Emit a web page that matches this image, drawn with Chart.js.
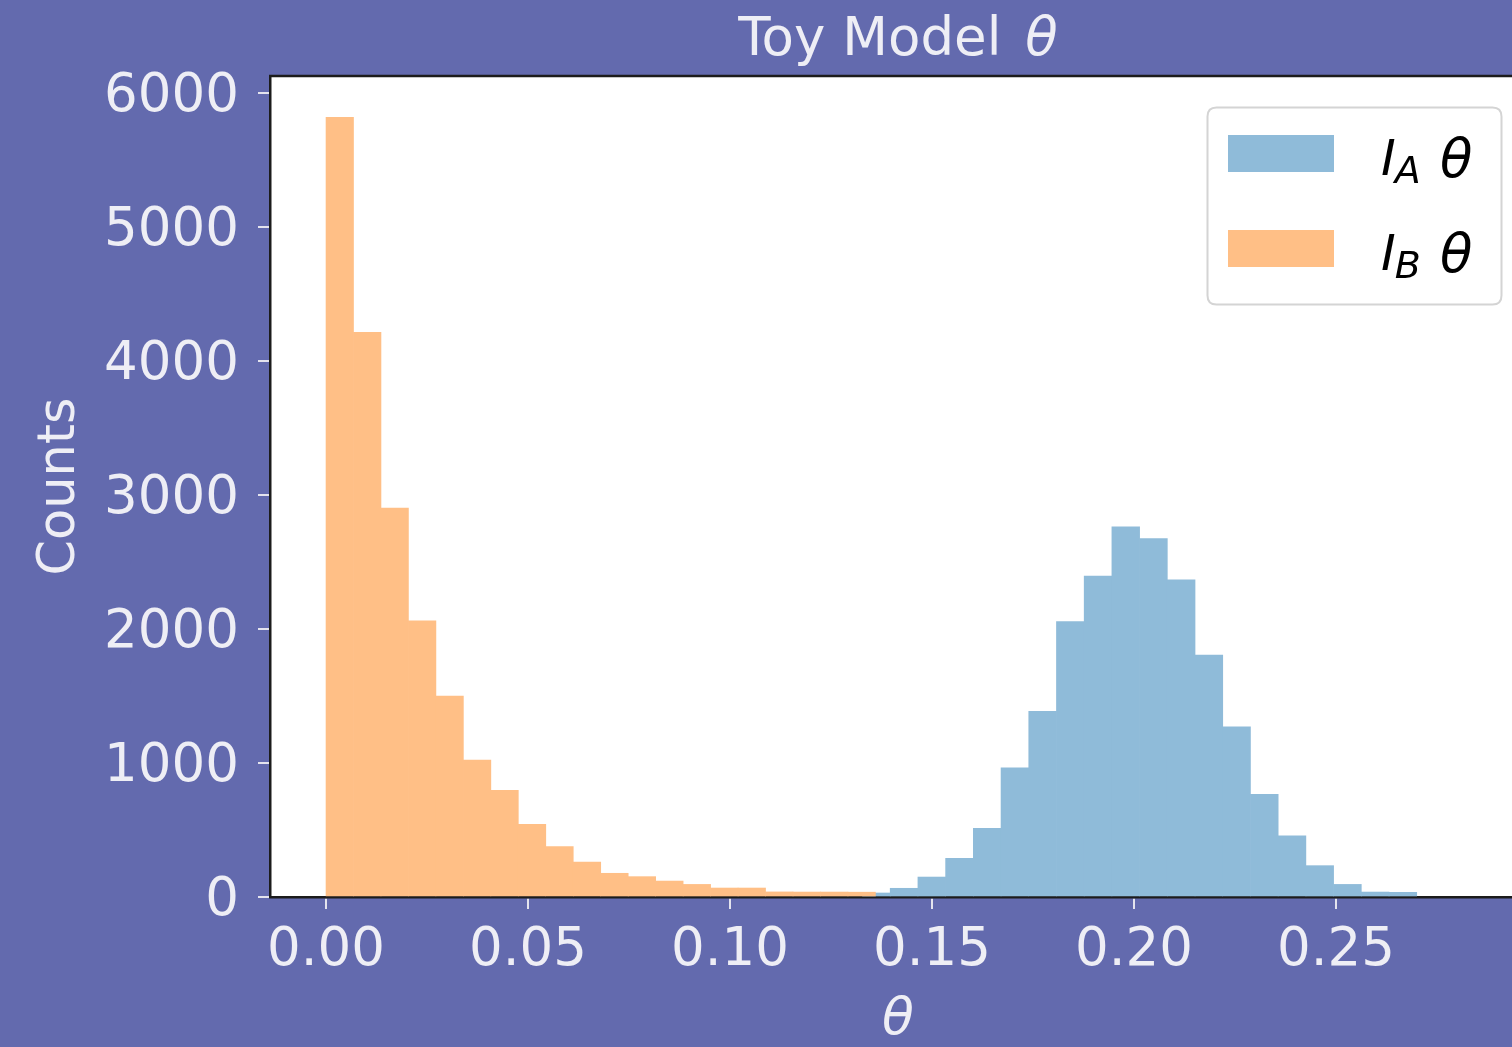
<!DOCTYPE html>
<html><head><meta charset="utf-8">
<script src="https://cdn.jsdelivr.net/npm/chart.js@4.4.1/dist/chart.umd.min.js"></script>
<style>
html,body{margin:0;padding:0;overflow:hidden;background:#636aae;width:1512px;height:1047px}
canvas{display:block}
</style></head>
<body>
<canvas id="c" width="1530" height="1047"></canvas>
<script>
// ---- data ----
const titleMain = 'Toy Model';
const titleSymbol = 'θ';
const xAxisLabel = 'θ';
const yAxisLabel = 'Counts';
const legendSubscripts = ['A', 'B'];

// I_A theta histogram (blue): bin centres and counts
const blueCenters = [0.13623, 0.14309, 0.14995, 0.15681, 0.16367, 0.17053, 0.17739, 0.18425, 0.19111, 0.19797,
                     0.20483, 0.21169, 0.21855, 0.22541, 0.23227, 0.23913, 0.24599, 0.25285, 0.25971, 0.26657];
const blueCounts  = [30, 65, 149, 289, 512, 965, 1386, 2057, 2396, 2764,
                     2677, 2368, 1806, 1271, 766, 457, 234, 94, 37, 35];

// I_B theta histogram (orange): bin centres and counts
const orangeCenters = [0.0034, 0.0102, 0.0170, 0.0238, 0.0306, 0.0374, 0.0442, 0.0510, 0.0578, 0.0646,
                       0.0714, 0.0782, 0.0850, 0.0918, 0.0986, 0.1054, 0.1122, 0.1190, 0.1258, 0.1326];
const orangeCounts  = [5821, 4216, 2903, 2062, 1500, 1022, 796, 542, 376, 261,
                       177, 152, 119, 94, 67, 67, 38, 37, 37, 36];

const xTickValues = [0, 0.05, 0.10, 0.15, 0.20, 0.25];
const yTickValues = [0, 1000, 2000, 3000, 4000, 5000, 6000];
const xRange = [-0.01387, 0.29705];
const yRange = [0, 6130];

// ---- styles ----
const BG = '#636aae';
const TXT = '#eeeef5';
const SPINE = '#1c1c1c';
const BLUE = '#8fbbd9';
const ORANGE = '#ffbf86';
const FONT = '"DejaVu Sans", sans-serif';

const toPts = (xs, ys) => xs.map((x, i) => ({x: x, y: ys[i]}));

const bgPlugin = {
  id: 'bg',
  beforeDraw(chart) {
    const {ctx, chartArea: ca} = chart;
    ctx.save();
    ctx.fillStyle = BG;
    ctx.fillRect(0, 0, chart.width, chart.height);
    ctx.fillStyle = '#ffffff';
    ctx.fillRect(ca.left, ca.top, ca.right - ca.left, ca.bottom - ca.top);
    ctx.restore();
  }
};

const decorPlugin = {
  id: 'decor',
  afterDraw(chart) {
    const {ctx, chartArea: ca} = chart;
    ctx.save();
    // top spine
    ctx.strokeStyle = SPINE;
    ctx.lineWidth = 2.5;
    ctx.beginPath();
    ctx.moveTo(ca.left - 1, ca.top);
    ctx.lineTo(ca.right, ca.top);
    ctx.stroke();

    // title
    ctx.fillStyle = TXT;
    ctx.textBaseline = 'alphabetic';
    const gap = 24;
    ctx.font = '53px ' + FONT;
    const w1 = ctx.measureText(titleMain).width;
    ctx.font = 'italic 53px ' + FONT;
    const w2 = ctx.measureText(titleSymbol).width;
    const cx = (ca.left + ca.right) / 2;
    const x = cx - (w1 + gap + w2) / 2;
    ctx.font = '53px ' + FONT;
    ctx.fillText(titleMain, x, 55);
    ctx.font = 'italic 53px ' + FONT;
    ctx.fillText(titleSymbol, x + w1 + gap, 55);

    // legend
    const lx = 1207.5, ly = 107.5, lw = 294, lh = 197, r = 9;
    ctx.beginPath();
    ctx.moveTo(lx + r, ly);
    ctx.lineTo(lx + lw - r, ly);
    ctx.quadraticCurveTo(lx + lw, ly, lx + lw, ly + r);
    ctx.lineTo(lx + lw, ly + lh - r);
    ctx.quadraticCurveTo(lx + lw, ly + lh, lx + lw - r, ly + lh);
    ctx.lineTo(lx + r, ly + lh);
    ctx.quadraticCurveTo(lx, ly + lh, lx, ly + lh - r);
    ctx.lineTo(lx, ly + r);
    ctx.quadraticCurveTo(lx, ly, lx + r, ly);
    ctx.closePath();
    ctx.fillStyle = 'rgba(255,255,255,0.85)';
    ctx.fill();
    ctx.strokeStyle = '#d4d4d4';
    ctx.lineWidth = 2;
    ctx.stroke();

    const entries = [
      {color: BLUE, sub: legendSubscripts[0], top: 135},
      {color: ORANGE, sub: legendSubscripts[1], top: 230}
    ];
    entries.forEach(e => {
      ctx.fillStyle = e.color;
      ctx.fillRect(1228, e.top, 106, 37);
      ctx.fillStyle = '#000000';
      const base = e.top + 40;
      ctx.font = 'italic 50px ' + FONT;
      ctx.fillText('I', 1381, base);
      const wi = ctx.measureText('I').width;
      ctx.font = 'italic 38px ' + FONT;
      ctx.fillText(e.sub, 1381 + wi - 1, base + 8);
      ctx.font = 'italic 53px ' + FONT;
      ctx.fillText('θ', 1440, base + 2);
    });
    ctx.restore();
  }
};

const tickFont = {family: FONT, size: 53};

new Chart(document.getElementById('c'), {
  type: 'bar',
  data: {
    datasets: [
      {
        label: 'I_B θ',
        data: toPts(orangeCenters, orangeCounts),
        xAxisID: 'x2',
        backgroundColor: ORANGE,
        borderWidth: 0,
        barPercentage: 1,
        categoryPercentage: 1,
        grouped: false
      },
      {
        label: 'I_A θ',
        data: toPts(blueCenters, blueCounts),
        xAxisID: 'x',
        backgroundColor: BLUE,
        borderWidth: 0,
        barPercentage: 1,
        categoryPercentage: 1,
        grouped: false
      }
    ]
  },
  options: {
    responsive: false,
    animation: false,
    devicePixelRatio: 1,
    layout: {padding: {top: 76, right: 4, left: 0, bottom: 0}},
    plugins: {legend: {display: false}, title: {display: false}, tooltip: {enabled: false}},
    scales: {
      x: {
        type: 'linear',
        position: 'bottom',
        min: xRange[0], max: xRange[1],
        offset: false,
        z: 1,
        afterBuildTicks: s => { s.ticks = xTickValues.map(v => ({value: v})); },
        afterFit: s => { s.height = 150; },
        ticks: {color: TXT, font: tickFont, padding: 10, maxRotation: 0, autoSkip: false,
                callback: v => Number(v).toFixed(2)},
        grid: {drawOnChartArea: false, drawTicks: true, tickLength: 12, color: '#e4e4ee', lineWidth: 2, offset: false},
        border: {display: true, color: SPINE, width: 2.5},
        title: {display: true, text: xAxisLabel, color: TXT,
                font: {family: FONT, size: 52, style: 'italic', lineHeight: 1}, padding: {top: 0, bottom: 1}}
      },
      x2: {
        type: 'linear',
        position: 'bottom',
        min: xRange[0], max: xRange[1],
        offset: false,
        display: false
      },
      y: {
        type: 'linear',
        position: 'left',
        min: yRange[0], max: yRange[1],
        z: 1,
        afterBuildTicks: s => { s.ticks = yTickValues.map(v => ({value: v})); },
        afterFit: s => { s.width = 270; },
        ticks: {color: TXT, font: tickFont, padding: 19, labelOffset: 4, callback: v => String(v)},
        grid: {drawOnChartArea: false, drawTicks: true, tickLength: 12, color: '#e4e4ee', lineWidth: 2},
        border: {display: true, color: SPINE, width: 2.5},
        title: {display: true, text: yAxisLabel, color: TXT,
                font: {family: FONT, size: 51, lineHeight: 1}, padding: {top: 35, bottom: 0}}
      }
    }
  },
  plugins: [bgPlugin, decorPlugin]
});
</script>
</body></html>
